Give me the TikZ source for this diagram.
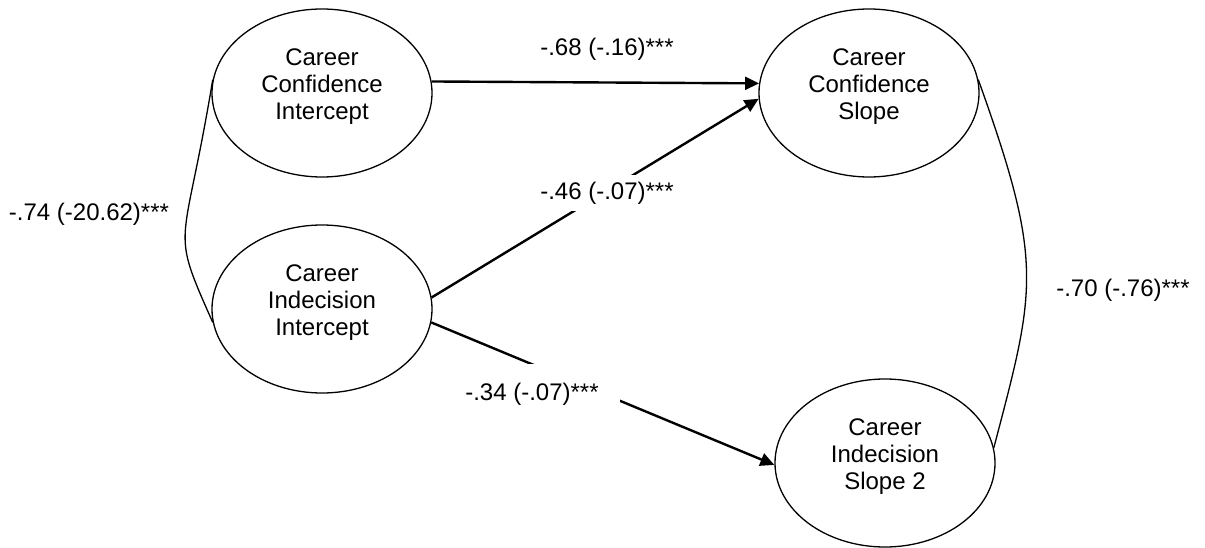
\documentclass[tikz,border=0pt]{standalone}
\usepackage{fontspec}
\setmainfont{Liberation Sans}
\usetikzlibrary{arrows.meta,shapes.geometric}

\begin{document}
\begin{tikzpicture}[x=1pt,y=-1pt,>={Triangle[length=14pt,width=13pt]},
  latent/.style={ellipse,draw,line width=1.3pt,minimum width=220pt,minimum height=168pt,
    inner sep=0pt,align=center,font=\fontsize{24}{27}\selectfont},
  regpath/.style={->,line width=2.4pt},
  cov/.style={line width=1.3pt},
  coef/.style={font=\fontsize{24}{27}\selectfont,inner sep=0pt}]
\useasboundingbox (0,0) rectangle (1205,548);
% ---- latent growth factors ----
\node[latent] (cci) at (322,93)  {Career\\Confidence\\Intercept\\[-9pt]\mbox{}};
\node[latent] (cii) at (322,309) {Career\\Indecision\\Intercept\\[-9pt]\mbox{}};
\node[latent] (ccs) at (869,93)  {Career\\Confidence\\Slope\\[-9pt]\mbox{}};
\node[latent] (cis) at (885,463) {Career\\Indecision\\Slope 2\\[-9pt]\mbox{}};
% ---- coefficients ----
\node[coef] (b68) at (607,49)   {-.68 (-.16)***};
\node[coef] (r74) at (89,214)   {-.74 (-20.62)***};
\node[coef] (r70) at (1123,290) {-.70 (-.76)***};
% ---- regression paths ----
\draw[regpath] (cci.6) -- (ccs.175);
\draw[regpath] (cii.6) -- (ccs.183);
\draw[regpath] (cii.-7) -- (cis.181);
% ---- covariances ----
\draw[cov] (cci.173) .. controls +(-29,176) and +(-44,-99) .. (cii.187);
\draw[cov] (ccs.7) .. controls +(66,184) and +(42,-160) .. (cis.8);
% labels sitting on the paths
\node[coef,fill=white,inner xsep=5pt,inner ysep=7pt] (b46) at (607,193) {-.46 (-.07)***};
\node[coef,fill=white,inner xsep=21pt,inner ysep=19pt] (b34) at (532,394) {-.34 (-.07)***};
\end{tikzpicture}
\end{document}
